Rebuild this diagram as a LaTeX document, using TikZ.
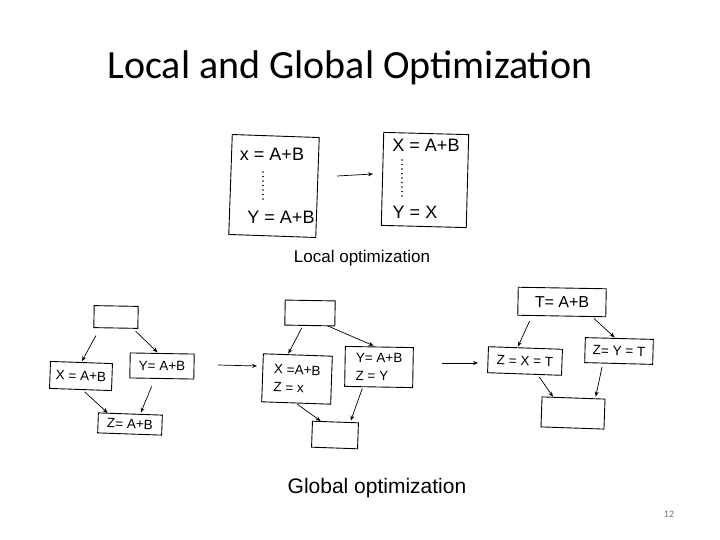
\documentclass[tikz,border=0pt]{standalone}
\usepackage{fontspec}
\setmainfont{Carlito}
\newfontfamily\hand{Liberation Sans}
\usetikzlibrary{arrows.meta}
\tikzset{
  box/.style={draw, line width=0.9pt, inner sep=1.5pt, font=\hand\fontsize{13.5}{16}\selectfont},
  arr/.style={line width=0.7pt, -{Stealth[length=5pt,width=4pt]}},
  btxt/.style={font=\hand\fontsize{18}{20}\selectfont, inner sep=0pt},
  lbl/.style={font=\hand\fontsize{17}{19}\selectfont, inner sep=0pt},
  dots/.style={line width=1.6pt, line cap=round, dash pattern=on 0pt off 4.5pt},
}
\begin{document}
\begin{tikzpicture}[x=1pt,y=-1pt]
\useasboundingbox (0,0) rectangle (720,540);
% title
\node[font=\fontsize{40}{44}\selectfont, inner sep=0pt] (title) at (350,68) {Local and Global Optimization};
\node[font=\fontsize{10}{12}\selectfont, text=black!55, inner sep=0pt] (pg) at (669,514) {12};

% ---- Local optimization ----
\node[box, minimum width=87pt, minimum height=100pt, rotate=-2] (lb1) at (274,186) {};
\node[btxt] (lb1a) at (272,154) {x = A+B};
\node[btxt] (lb1b) at (281,217) {Y = A+B};
\draw[dots] (263,172) -- (263,203);
\node[box, minimum width=85pt, minimum height=93pt, rotate=-1.5] (lb2) at (425,180) {};
\node[btxt] (lb2a) at (426,145) {X = A+B};
\node[btxt] (lb2b) at (415,212) {Y = X};
\draw[dots] (402,160) -- (402,198);
\coordinate (la) at (337,176);
\coordinate (lb) at (373,174);
\draw[arr] (la) -- (lb);
\node[lbl] (loclbl) at (362,258) {Local optimization};

% ---- Global: graph 1 ----
\node[box, minimum width=44pt, minimum height=22pt, rotate=-1] (g1t) at (116,317) {};
\node[box, minimum width=62pt, minimum height=27pt, rotate=-2] (g1x) at (81,376) {X = A+B};
\node[box, minimum width=64pt, minimum height=25pt, rotate=-1] (g1y) at (162,366) {Y= A+B};
\node[box, minimum width=64pt, minimum height=20pt, rotate=-2] (g1z) at (130,424) {Z= A+B};
\draw[arr, shorten <=8pt, shorten >=1pt] ([xshift=-16pt]g1t.south) -- (g1x.north);
\draw[arr, shorten <=4pt, shorten >=1pt] ([xshift=17pt]g1t.south) -- ([xshift=-4pt]g1y.north);
\draw[arr, shorten <=3pt, shorten >=1pt] ([xshift=2pt]g1x.south) -- ([xshift=-22pt]g1z.north);
\draw[arr, shorten <=8pt, shorten >=1pt] ([xshift=-7pt]g1y.south) -- ([xshift=10pt]g1z.north);

% ---- Global: graph 2 ----
\node[box, minimum width=50pt, minimum height=25pt, rotate=-1] (g2t) at (310,313) {};
\node[box, minimum width=69pt, minimum height=48pt, rotate=-2, align=left] (g2x) at (297,379) {X =A+B\\[2pt]Z = x};
\node[box, minimum width=68pt, minimum height=40pt, rotate=-1, align=left] (g2y) at (379,367) {Y= A+B\\[2pt]Z = Y};
\node[box, minimum width=46pt, minimum height=26pt, rotate=-2] (g2b) at (335,435) {};
\draw[arr, shorten <=2pt, shorten >=1pt] ([xshift=-7pt]g2t.south) -- ([xshift=-10pt]g2x.north);
\draw[arr, shorten <=0pt, shorten >=2pt] ([xshift=18pt]g2t.south) -- ([xshift=-4pt]g2y.north);
\draw[arr, shorten <=1pt, shorten >=1pt] (g2x.south) -- ([xshift=-14pt]g2b.north);
\draw[arr, shorten <=1pt, shorten >=1pt] ([xshift=-16pt]g2y.south) -- ([xshift=15pt]g2b.north);

% ---- Global: graph 3 ----
\node[box, minimum width=88pt, minimum height=28pt, rotate=-1, font=\hand\fontsize{16}{18}\selectfont] (g3t) at (562,302) {T= A+B};
\node[box, minimum width=74pt, minimum height=26pt, rotate=-2] (g3l) at (525,361) {Z = X = T};
\node[box, minimum width=68pt, minimum height=25pt, rotate=-1.5] (g3r) at (619,351) {Z= Y = T};
\node[box, minimum width=63pt, minimum height=30pt, rotate=-2] (g3b) at (573,413) {};
\draw[arr, shorten <=5pt, shorten >=1pt] ([xshift=-30pt]g3t.south) -- ([xshift=-8pt]g3l.north);
\draw[arr, shorten <=3pt, shorten >=1pt] ([xshift=30pt]g3t.south) -- ([xshift=-4pt]g3r.north);
\draw[arr, shorten <=3pt, shorten >=1pt] ([xshift=13pt]g3l.south) -- ([xshift=-20pt]g3b.north);
\draw[arr, shorten <=3pt, shorten >=1pt] ([xshift=-16pt]g3r.south) -- ([xshift=22pt]g3b.north);

% arrows between graphs
\coordinate (a1s) at (218,365);
\coordinate (a1e) at (257,366);
\coordinate (a2s) at (442,363);
\coordinate (a2e) at (478,363);
\draw[arr] (a1s) -- (a1e);
\draw[arr] (a2s) -- (a2e);

\node[lbl, font=\hand\fontsize{21}{23}\selectfont] (glolbl) at (377,488) {Global optimization};
\end{tikzpicture}
\end{document}
